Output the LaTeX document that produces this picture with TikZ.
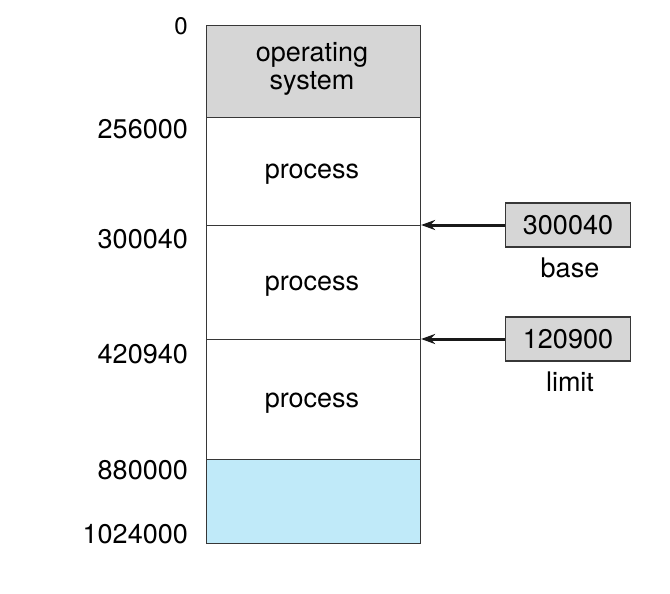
\documentclass[tikz,border=0pt]{standalone}
\usepackage{fontspec}
\setmainfont{TeX Gyre Heros}
\usetikzlibrary{arrows.meta}

\definecolor{osgray}{RGB}{214,214,214}
\definecolor{holeblue}{RGB}{192,234,249}
\definecolor{edgegray}{RGB}{55,55,55}

\tikzset{
	txt/.style={inner sep=0pt, align=center, font=\fontsize{27}{28}\selectfont},
	region/.style={draw=edgegray, line width=1.1pt, minimum width=214pt, anchor=north west,
		inner sep=0pt},
	regbox/.style={txt, draw=edgegray, fill=osgray, line width=1.1pt, minimum width=125pt,
		minimum height=44pt},
	addr/.style={txt, anchor=east},
	ptr/.style={-{Stealth[length=14pt,width=10pt]}, line width=3pt, draw=black!90}
}

\begin{document}
\begin{tikzpicture}[x=1pt,y=-1pt]
		\useasboundingbox (0,0) rectangle (670,594);
		
		% memory column
		\node[region, fill=osgray, minimum height=92pt] (os) at (206,25) {};
		\node[region, minimum height=108pt] (p1) at (206,117) {};
		\node[region, minimum height=114pt] (p2) at (206,225) {};
		\node[region, minimum height=120pt] (p3) at (206,339) {};
		\node[region, fill=holeblue, minimum height=84pt] (hole) at (206,459) {};
		
		\node[txt] (ostxt) at (312,69) {operating\\system};
		\node[txt] (p1txt) at (312,174) {process};
		\node[txt] (p2txt) at (312,286) {process};
		\node[txt] (p3txt) at (312,403) {process};
		
		% addresses
		\node[addr, font=\fontsize{24}{24}\selectfont] (a0) at (188,26) {0};
		\node[addr] (a1) at (188,129) {256000};
		\node[addr] (a2) at (188,239) {300040};
		\node[addr] (a3) at (188,354) {420940};
		\node[addr] (a4) at (188,470) {880000};
		\node[addr] (a5) at (188,534) {1024000};
		
		% registers
		\node[regbox] (base) at (568,225) {300040};
		\node[txt] (baselbl) at (570,268) {base};
		\node[regbox] (limit) at (568,339) {120900};
		\node[txt] (limitlbl) at (570,382) {limit};
		
		\draw[ptr] (base.west) -- (p2.north east);
		\draw[ptr] (limit.west) -- (p3.north east);
	\end{tikzpicture}
\end{document}
